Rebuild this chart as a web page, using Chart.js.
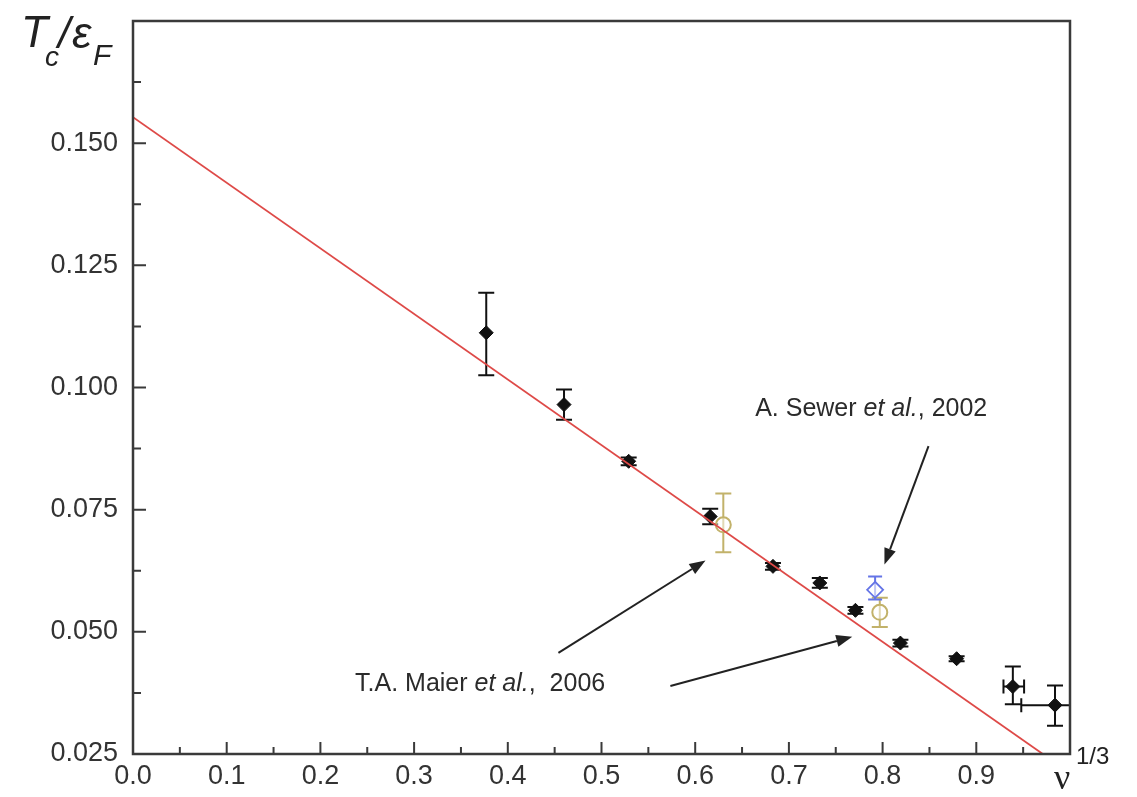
<!DOCTYPE html>
<html>
<head>
<meta charset="utf-8">
<script src="https://cdn.jsdelivr.net/npm/chart.js@4.4.0/dist/chart.umd.min.js"></script>
<style>
html,body{margin:0;padding:0;background:#fff;}
#wrap{width:1137px;height:797px;}
</style>
</head>
<body>
<div id="wrap"><canvas id="myChart" width="1137" height="797"></canvas></div>
<script>
// valeurs : Tc/eF en fonction de nu^(1/3)
const nuQMC     = [0.377, 0.460, 0.529, 0.616, 0.683, 0.733, 0.771, 0.819, 0.879, 0.939, 0.984];
const tcQMC     = [0.1112, 0.0965, 0.0849, 0.0736, 0.0634, 0.0600, 0.0544, 0.0477, 0.0445, 0.0388, 0.0350];
const tcQMCLow  = [0.1025, 0.0934, 0.0841, 0.0720, 0.0627, 0.0590, 0.0537, 0.0470, 0.0440, 0.0352, 0.0308];
const tcQMCHigh = [0.1194, 0.0996, 0.0857, 0.0752, 0.0641, 0.0610, 0.0551, 0.0484, 0.0450, 0.0429, 0.0390];
const nuQMCLow  = [null, null, null, null, null, null, null, null, null, 0.929, 0.948];
const nuQMCHigh = [null, null, null, null, null, null, null, null, null, 0.951, 1.020];

// T.A. Maier et al., 2006
const nuMaier     = [0.630, 0.797];
const tcMaier     = [0.0719, 0.0540];
const tcMaierLow  = [0.0663, 0.0510];
const tcMaierHigh = [0.0783, 0.0570];

// A. Sewer et al., 2002
const nuSewer     = [0.792];
const tcSewer     = [0.0586];
const tcSewerLow  = [0.0566];
const tcSewerHigh = [0.0613];

// droite rouge
const nuFit = [0.0, 0.971];
const tcFit = [0.1553, 0.025];

// annotations (coordonnees des donnees)
const arrows = [
  [0.849, 0.0880, 0.802, 0.0638],
  [0.454, 0.0457, 0.611, 0.0646],
  [0.5735, 0.0389, 0.7676, 0.0490]
];

const toPts = (xs, ys) => xs.map((v, i) => ({x: v, y: ys[i]}));
const FONT = "'Liberation Sans', Arial, sans-serif";

// barres d'erreur
const errorBars = {
  id: 'errorBars',
  beforeDatasetsDraw(chart) {
    const {ctx, chartArea, scales: {x, y}} = chart;
    ctx.save();
    ctx.beginPath();
    ctx.rect(chartArea.left, chartArea.top, chartArea.right - chartArea.left, chartArea.bottom - chartArea.top);
    ctx.clip();
    chart.data.datasets.forEach(ds => {
      if (!ds.errY) return;
      ctx.strokeStyle = ds.errColor;
      ctx.lineWidth = 2;
      ds.data.forEach((p, i) => {
        const px = x.getPixelForValue(p.x);
        const py = y.getPixelForValue(p.y);
        const yl = y.getPixelForValue(ds.errY[0][i]);
        const yh = y.getPixelForValue(ds.errY[1][i]);
        const c = ds.capW;
        ctx.beginPath();
        ctx.moveTo(px, yl); ctx.lineTo(px, yh);
        ctx.moveTo(px - c, yl); ctx.lineTo(px + c, yl);
        ctx.moveTo(px - c, yh); ctx.lineTo(px + c, yh);
        ctx.stroke();
        if (ds.errX && ds.errX[0][i] != null) {
          const xl = x.getPixelForValue(ds.errX[0][i]);
          const xh = x.getPixelForValue(ds.errX[1][i]);
          ctx.beginPath();
          ctx.moveTo(xl, py); ctx.lineTo(xh, py);
          ctx.moveTo(xl, py - 7); ctx.lineTo(xl, py + 7);
          ctx.moveTo(xh, py - 7); ctx.lineTo(xh, py + 7);
          ctx.stroke();
        }
      });
    });
    ctx.restore();
  }
};

// cadre, graduations interieures, textes
const decor = {
  id: 'decor',
  afterDatasetsDraw(chart) {
    const {ctx, chartArea: a, scales: {x, y}} = chart;
    ctx.save();
    ctx.strokeStyle = '#3a3a3a';
    ctx.lineWidth = 2.5;
    ctx.strokeRect(a.left, a.top, a.right - a.left, a.bottom - a.top);
    ctx.lineWidth = 2;
    ctx.beginPath();
    y.ticks.forEach((t, i) => {
      const py = y.getPixelForValue(t.value);
      if (py <= a.top + 1 || py >= a.bottom - 1) return;
      const len = i % 2 === 0 ? 13 : 8;
      ctx.moveTo(a.left, py); ctx.lineTo(a.left + len, py);
    });
    x.ticks.forEach((t, i) => {
      const px = x.getPixelForValue(t.value);
      if (px <= a.left + 1 || px >= a.right - 1) return;
      const len = i % 2 === 0 ? 12 : 7;
      ctx.moveTo(px, a.bottom); ctx.lineTo(px, a.bottom - len);
    });
    ctx.stroke();

    // fleches
    ctx.strokeStyle = '#222';
    ctx.fillStyle = '#222';
    ctx.lineWidth = 2;
    arrows.forEach(ar => {
      const x1 = x.getPixelForValue(ar[0]), y1 = y.getPixelForValue(ar[1]);
      const x2 = x.getPixelForValue(ar[2]), y2 = y.getPixelForValue(ar[3]);
      const ang = Math.atan2(y2 - y1, x2 - x1);
      const hl = 16, hw = 6;
      const bx = x2 - hl * Math.cos(ang), by = y2 - hl * Math.sin(ang);
      ctx.beginPath();
      ctx.moveTo(x1, y1); ctx.lineTo(bx, by);
      ctx.stroke();
      ctx.beginPath();
      ctx.moveTo(x2, y2);
      ctx.lineTo(bx + hw * Math.sin(ang), by - hw * Math.cos(ang));
      ctx.lineTo(bx - hw * Math.sin(ang), by + hw * Math.cos(ang));
      ctx.closePath();
      ctx.fill();
    });

    // textes des annotations
    const writeParts = (parts, px, py) => {
      ctx.textBaseline = 'middle';
      ctx.textAlign = 'left';
      let cx = px;
      parts.forEach(p => {
        ctx.font = (p[1] ? 'italic ' : '') + '25px ' + FONT;
        ctx.fillText(p[0], cx, py);
        cx += ctx.measureText(p[0]).width;
      });
    };
    ctx.fillStyle = '#2b2b2b';
    writeParts([['A. Sewer ', false], ['et al.', true], [', 2002', false]],
      x.getPixelForValue(0.664), y.getPixelForValue(0.0956));
    writeParts([['T.A. Maier ', false], ['et al.', true], [',  2006', false]],
      x.getPixelForValue(0.237), y.getPixelForValue(0.0393));
    ctx.restore();
  },
  afterDraw(chart) {
    const {ctx, chartArea: a} = chart;
    ctx.save();
    ctx.fillStyle = '#222';
    ctx.textBaseline = 'alphabetic';
    ctx.textAlign = 'left';
    // titre de l'axe y : Tc/eF
    ctx.font = 'italic 44px ' + FONT;
    ctx.fillText('T', 21, 47);
    ctx.font = 'italic 28px ' + FONT;
    ctx.fillText('c', 45, 66);
    ctx.font = 'italic 44px ' + FONT;
    ctx.fillText('/', 58, 48);
    ctx.fillText('\u03b5', 72, 48);
    ctx.font = 'italic 30px ' + FONT;
    ctx.fillText('F', 93, 65);
    // nu^(1/3)
    ctx.font = "36px 'Liberation Serif', serif";
    ctx.fillText('\u03bd', a.right - 16, 789);
    ctx.font = '24px ' + FONT;
    ctx.fillText('1/3', a.right + 6, 764);
    ctx.restore();
  }
};

const ctx = document.getElementById('myChart').getContext('2d');
const myChart = new Chart(ctx, {
  type: 'scatter',
  data: {
    datasets: [
      {
        label: 'fit',
        data: toPts(nuFit, tcFit),
        showLine: true,
        borderColor: '#de4a48',
        borderWidth: 1.8,
        pointRadius: 0,
        order: 0
      },
      {
        label: 'QMC',
        data: toPts(nuQMC, tcQMC),
        pointStyle: 'rectRot',
        pointRadius: 7,
        backgroundColor: '#111',
        borderColor: '#111',
        borderWidth: 1,
        errY: [tcQMCLow, tcQMCHigh],
        errX: [nuQMCLow, nuQMCHigh],
        errColor: '#111',
        capW: 8,
        order: 1
      },
      {
        label: 'Maier 2006',
        data: toPts(nuMaier, tcMaier),
        pointStyle: 'circle',
        pointRadius: 7.5,
        backgroundColor: 'rgba(255,255,255,0.5)',
        borderColor: '#c2b26a',
        borderWidth: 2,
        errY: [tcMaierLow, tcMaierHigh],
        errColor: '#c2b26a',
        capW: 8,
        order: 1
      },
      {
        label: 'Sewer 2002',
        data: toPts(nuSewer, tcSewer),
        pointStyle: 'rectRot',
        pointRadius: 8,
        backgroundColor: 'rgba(255,255,255,0.6)',
        borderColor: '#6474e6',
        borderWidth: 1.8,
        errY: [tcSewerLow, tcSewerHigh],
        errColor: '#6474e6',
        capW: 7,
        order: 1
      }
    ]
  },
  options: {
    responsive: false,
    animation: false,
    devicePixelRatio: 1,
    layout: {padding: {top: 21, right: 67, left: 0, bottom: 0}},
    plugins: {legend: {display: false}, tooltip: {enabled: false}},
    scales: {
      x: {
        type: 'linear',
        min: 0,
        max: 1,
        afterFit: s => { s.height = 43; s.paddingLeft = 0; s.paddingRight = 0; },
        grid: {display: false, drawTicks: false},
        border: {display: false},
        ticks: {
          stepSize: 0.05,
          autoSkip: false,
          maxRotation: 0,
          padding: 6,
          color: '#333',
          font: {family: FONT, size: 27},
          callback: (v, i) => (i % 2 === 0 && i < 20) ? v.toFixed(1) : ''
        }
      },
      y: {
        type: 'linear',
        min: 0.025,
        max: 0.175,
        afterFit: s => { s.width = 133; s.paddingTop = 0; s.paddingBottom = 0; },
        grid: {display: false, drawTicks: false},
        border: {display: false},
        ticks: {
          stepSize: 0.0125,
          autoSkip: false,
          padding: 15,
          color: '#333',
          font: {family: FONT, size: 27},
          callback: (v, i) => (i % 2 === 0 && i < 12) ? v.toFixed(3) : ''
        }
      }
    }
  },
  plugins: [errorBars, decor]
});
</script>
</body>
</html>
